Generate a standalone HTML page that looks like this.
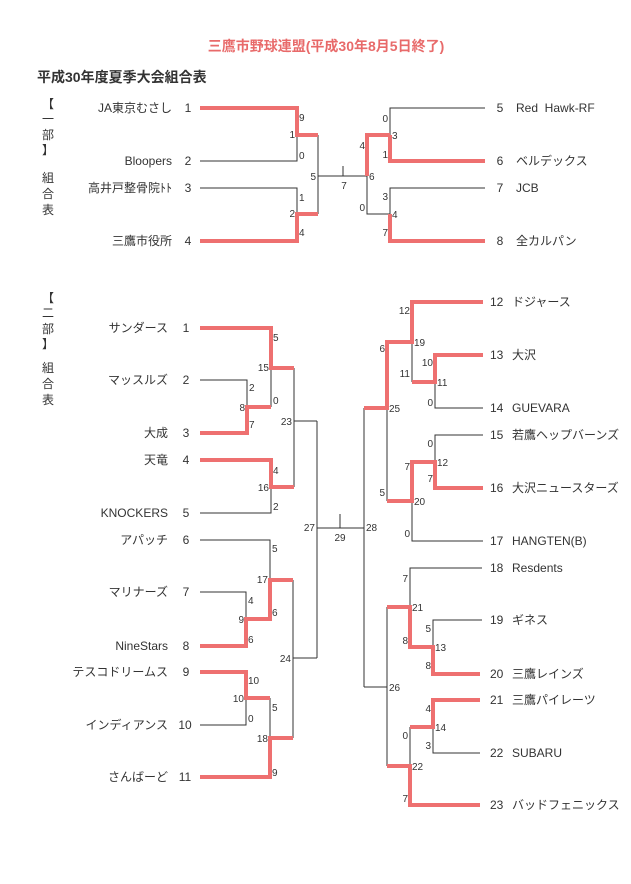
<!DOCTYPE html>
<html><head><meta charset="utf-8"><style>
html,body{margin:0;padding:0;background:#fff;}
svg{display:block;}
text{font-family:"Liberation Sans","Noto Sans CJK JP",sans-serif;fill:#333;}
.n{font-size:12px;}
.s{font-size:10px;}
.bk{fill:none;stroke:#333;stroke-width:1;}
.rd{fill:none;stroke:#ee7070;stroke-width:4;stroke-linejoin:miter;}
</style></head><body>
<svg width="631" height="884" viewBox="0 0 631 884" xmlns="http://www.w3.org/2000/svg">
<text x="326" y="51" text-anchor="middle" style="font-size:14px;font-weight:bold;fill:#e86a6a">三鷹市野球連盟(平成30年8月5日終了)</text>
<text x="37" y="82" style="font-size:14px;font-weight:bold;fill:#333">平成30年度夏季大会組合表</text>

<g style="font-size:12px">
<text x="48" y="108" text-anchor="middle">【</text>
<text x="48" y="123" text-anchor="middle">一</text>
<text x="48" y="139" text-anchor="middle">部</text>
<text x="48" y="154" text-anchor="middle">】</text>
<text x="48" y="182" text-anchor="middle">組</text>
<text x="48" y="198" text-anchor="middle">合</text>
<text x="48" y="214" text-anchor="middle">表</text>
<text x="48" y="302" text-anchor="middle">【</text>
<text x="48" y="317" text-anchor="middle">二</text>
<text x="48" y="333" text-anchor="middle">部</text>
<text x="48" y="348" text-anchor="middle">】</text>
<text x="48" y="372" text-anchor="middle">組</text>
<text x="48" y="388" text-anchor="middle">合</text>
<text x="48" y="404" text-anchor="middle">表</text>
</g>

<!-- top bracket -->
<path class="bk" d="M200 161H297V135 M200 188H297V214 M318 135V214 M318 176H367 M343 166V176 M367 176V214H390 M485 108H390V135 M485 188H390V214"/>
<path class="rd" d="M200 108H297V135H318 M200 241H297V214H318 M390 135H367V176 M390 135V161H485 M390 214V241H485"/>

<g class="n">
<text x="172" y="112" text-anchor="end">JA東京むさし</text><text x="188" y="112" text-anchor="middle">1</text>
<text x="172" y="165" text-anchor="end">Bloopers</text><text x="188" y="165" text-anchor="middle">2</text>
<text x="172" y="192" text-anchor="end">高井戸整骨院ﾄﾄ</text><text x="188" y="192" text-anchor="middle">3</text>
<text x="172" y="245" text-anchor="end">三鷹市役所</text><text x="188" y="245" text-anchor="middle">4</text>
<text x="500" y="112" text-anchor="middle">5</text><text x="516" y="112">Red&#160;&#160;Hawk-RF</text>
<text x="500" y="165" text-anchor="middle">6</text><text x="516" y="165">ベルデックス</text>
<text x="500" y="192" text-anchor="middle">7</text><text x="516" y="192">JCB</text>
<text x="500" y="245" text-anchor="middle">8</text><text x="516" y="245">全カルパン</text>
</g>
<g class="s">
<text x="299" y="121">9</text><text x="295" y="138" text-anchor="end">1</text><text x="299" y="159">0</text>
<text x="299" y="201">1</text><text x="295" y="217" text-anchor="end">2</text><text x="299" y="236">4</text>
<text x="316" y="180" text-anchor="end">5</text><text x="344" y="189" text-anchor="middle">7</text>
<text x="369" y="180">6</text><text x="365" y="149" text-anchor="end">4</text><text x="365" y="211" text-anchor="end">0</text>
<text x="388" y="122" text-anchor="end">0</text><text x="392" y="139">3</text><text x="388" y="158" text-anchor="end">1</text>
<text x="388" y="200" text-anchor="end">3</text><text x="392" y="218">4</text><text x="388" y="236" text-anchor="end">7</text>
</g>

<!-- bottom left -->
<path class="bk" d="M200 380H247V407 M271 368V407 M271 487V513H200 M294 368V487 M294 421H317 M317 421V658 M317 528H364 M340 514V528 M200 540H270V580 M200 592H246V619 M293 580V738 M293 658H317 M246 698V725H200 M270 698V738"/>
<path class="rd" d="M200 328H271V368H294 M200 433H247V407H271 M200 460H271V487H294 M200 646H246V619H270V580H293 M200 672H246V698H270 M200 777H270V738H293"/>

<g class="n">
<text x="168" y="332" text-anchor="end">サンダース</text><text x="186" y="332" text-anchor="middle">1</text>
<text x="168" y="384" text-anchor="end">マッスルズ</text><text x="186" y="384" text-anchor="middle">2</text>
<text x="168" y="437" text-anchor="end">大成</text><text x="186" y="437" text-anchor="middle">3</text>
<text x="168" y="464" text-anchor="end">天竜</text><text x="186" y="464" text-anchor="middle">4</text>
<text x="168" y="517" text-anchor="end">KNOCKERS</text><text x="186" y="517" text-anchor="middle">5</text>
<text x="168" y="544" text-anchor="end">アパッチ</text><text x="186" y="544" text-anchor="middle">6</text>
<text x="168" y="596" text-anchor="end">マリナーズ</text><text x="186" y="596" text-anchor="middle">7</text>
<text x="168" y="650" text-anchor="end">NineStars</text><text x="186" y="650" text-anchor="middle">8</text>
<text x="168" y="676" text-anchor="end">テスコドリームス</text><text x="186" y="676" text-anchor="middle">9</text>
<text x="168" y="729" text-anchor="end">インディアンス</text><text x="185" y="729" text-anchor="middle">10</text>
<text x="168" y="781" text-anchor="end">さんばーど</text><text x="185" y="781" text-anchor="middle">11</text>
</g>
<g class="s">
<text x="273" y="341">5</text><text x="269" y="371" text-anchor="end">15</text><text x="273" y="404">0</text>
<text x="249" y="391">2</text><text x="245" y="411" text-anchor="end">8</text><text x="249" y="428">7</text>
<text x="292" y="425" text-anchor="end">23</text>
<text x="273" y="474">4</text><text x="269" y="491" text-anchor="end">16</text><text x="273" y="510">2</text>
<text x="315" y="531" text-anchor="end">27</text><text x="340" y="541" text-anchor="middle">29</text>
<text x="272" y="552">5</text><text x="268" y="583" text-anchor="end">17</text><text x="272" y="616">6</text>
<text x="248" y="604">4</text><text x="244" y="623" text-anchor="end">9</text><text x="248" y="643">6</text>
<text x="291" y="662" text-anchor="end">24</text>
<text x="248" y="684">10</text><text x="244" y="702" text-anchor="end">10</text><text x="248" y="722">0</text>
<text x="272" y="711">5</text><text x="268" y="742" text-anchor="end">18</text><text x="272" y="776">9</text>
</g>

<!-- bottom right -->
<path class="bk" d="M412 342V382 M483 408H435V382 M387 408V501 M483 435H435V462 M412 501V541H483 M364 408V687 M364 687H387 M482 568H410V607 M482 620H433V647 M387 607V766 M480 753H433V727 M410 727V766"/>
<path class="rd" d="M483 302H412V342H387V408H364 M483 355H435V382H412 M483 488H435V462H412V501H387 M387 607H410V647H433V674H480 M480 700H433V727H410 M387 766H410V805H480"/>

<g class="n">
<text x="490" y="306">12</text><text x="512" y="306">ドジャース</text>
<text x="490" y="359">13</text><text x="512" y="359">大沢</text>
<text x="490" y="412">14</text><text x="512" y="412">GUEVARA</text>
<text x="490" y="439">15</text><text x="512" y="439">若鷹ヘップバーンズ</text>
<text x="490" y="492">16</text><text x="512" y="492">大沢ニュースターズ</text>
<text x="490" y="545">17</text><text x="512" y="545">HANGTEN(B)</text>
<text x="490" y="572">18</text><text x="512" y="572">Resdents</text>
<text x="490" y="624">19</text><text x="512" y="624">ギネス</text>
<text x="490" y="678">20</text><text x="512" y="678">三鷹レインズ</text>
<text x="490" y="704">21</text><text x="512" y="704">三鷹パイレーツ</text>
<text x="490" y="757">22</text><text x="512" y="757">SUBARU</text>
<text x="490" y="809">23</text><text x="512" y="809">バッドフェニックス</text>
</g>
<g class="s">
<text x="410" y="314" text-anchor="end">12</text><text x="414" y="346">19</text><text x="385" y="352" text-anchor="end">6</text>
<text x="433" y="366" text-anchor="end">10</text><text x="410" y="377" text-anchor="end">11</text><text x="437" y="386">11</text><text x="433" y="406" text-anchor="end">0</text>
<text x="389" y="412">25</text>
<text x="433" y="447" text-anchor="end">0</text><text x="437" y="466">12</text><text x="433" y="482" text-anchor="end">7</text><text x="410" y="470" text-anchor="end">7</text>
<text x="414" y="505">20</text><text x="385" y="496" text-anchor="end">5</text><text x="410" y="537" text-anchor="end">0</text>
<text x="366" y="531">28</text>
<text x="408" y="582" text-anchor="end">7</text><text x="412" y="611">21</text><text x="408" y="644" text-anchor="end">8</text>
<text x="431" y="632" text-anchor="end">5</text><text x="435" y="651">13</text><text x="431" y="669" text-anchor="end">8</text>
<text x="389" y="691">26</text>
<text x="431" y="712" text-anchor="end">4</text><text x="435" y="731">14</text><text x="431" y="749" text-anchor="end">3</text>
<text x="408" y="739" text-anchor="end">0</text><text x="412" y="770">22</text><text x="408" y="802" text-anchor="end">7</text>
</g>
</svg>
</body></html>
